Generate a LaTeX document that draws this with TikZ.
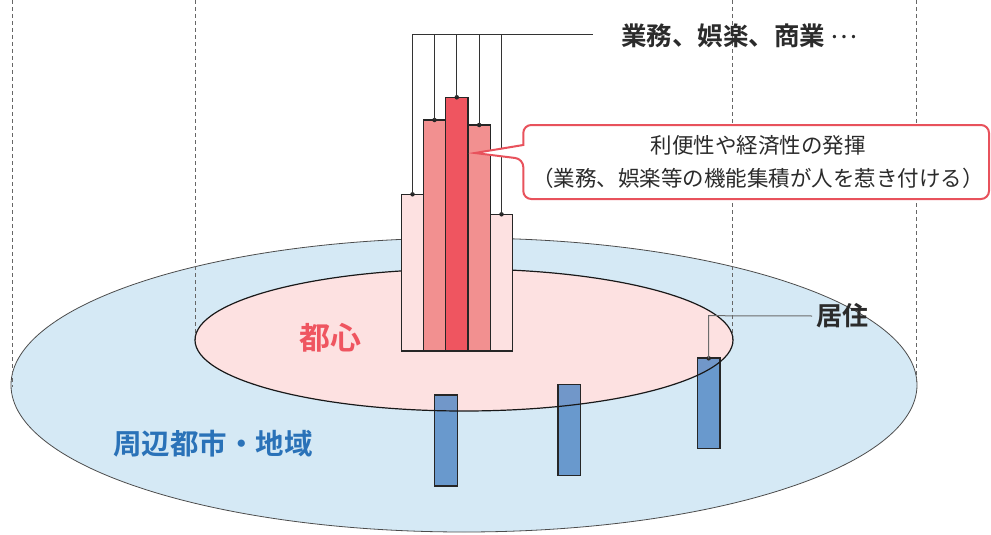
\documentclass[tikz,border=0pt]{standalone}
\usepackage{fontspec}
\newfontfamily\jp{Noto Sans CJK JP}
\newfontfamily\jpb{Noto Sans CJK JP Bold}
\definecolor{outerblue}{HTML}{D5E9F5}
\definecolor{innerpink}{HTML}{FDE1E1}
\definecolor{midred}{HTML}{F29090}
\definecolor{deepred}{HTML}{EF5560}
\definecolor{barblue}{HTML}{4F85C4}
\definecolor{labblue}{HTML}{2A72B8}
\definecolor{txtgray}{HTML}{2B2B2B}
\definecolor{calred}{HTML}{E8525C}
\tikzset{
  guide/.style={draw=gray!80!black, dashed, line width=0.7pt, dash pattern=on 4pt off 3pt},
  redbar/.style={draw=black!85, line width=1.2pt},
  bluebar/.style={draw=black!85, line width=1.1pt, fill=barblue, fill opacity=0.8},
  leader/.style={draw=black!80, line width=0.9pt},
  dotc/.style={circle, fill=black!85, inner sep=0pt, minimum size=4.5pt},
}
\begin{document}
\begin{tikzpicture}[x=1pt,y=-1pt]
\useasboundingbox (0,0) rectangle (991,535);
% outer ellipse
\fill[outerblue] (464,385) ellipse [x radius=453, y radius=147];
\draw[black!70, line width=0.8pt] (464,385) ellipse [x radius=453, y radius=147];
% dashed guides
\draw[guide] (12,0) -- (12,387);
\draw[guide] (916,0) -- (916,385);
% inner ellipse fill
\fill[innerpink] (464,340) ellipse [x radius=269, y radius=71];
\draw[guide] (195,0) -- (195,340);
\draw[guide] (732.5,0) -- (732.5,340);
% blue bars (residential)
\path[bluebar] (434.3,395) rectangle (457.3,486);
\path[bluebar] (558,384.7) rectangle (580.3,475.7);
\path[bluebar] (697.3,358) rectangle (720,448.7);
\draw[bluebar, fill=none] (434.3,395) rectangle (457.3,486);
\draw[bluebar, fill=none] (558,384.7) rectangle (580.3,475.7);
\draw[bluebar, fill=none] (697.3,358) rectangle (720,448.7);
% inner ellipse outline
\draw[black!90, line width=1.2pt] (464,340) ellipse [x radius=269, y radius=71];
% red bars
\path[redbar, fill=innerpink] (401.7,194.3) rectangle (423.3,351);
\path[redbar, fill=midred] (423.3,120) rectangle (445.7,351);
\path[redbar, fill=deepred] (445.7,97.3) rectangle (468,351);
\path[redbar, fill=midred] (468,125) rectangle (490.3,351);
\path[redbar, fill=innerpink] (490.3,214.3) rectangle (512.7,351);
% leader nodes
\node[dotc] (d1) at (412.5,194.3) {};
\node[dotc] (d2) at (434.5,120) {};
\node[dotc] (d3) at (456.8,97.3) {};
\node[dotc] (d4) at (479.2,125) {};
\node[dotc] (d5) at (501.5,214.3) {};
\coordinate (t1) at (412.5,34.3);
\coordinate (tend) at (593.3,34.3);
\draw[leader] (d1.center) -- (t1) -- (tend);
\draw[leader] (d2.center) -- (d2.center |- t1);
\draw[leader] (d3.center) -- (d3.center |- t1);
\draw[leader] (d4.center) -- (d4.center |- t1);
\draw[leader] (d5.center) -- (d5.center |- t1);
\node[anchor=west, inner sep=0pt, text=txtgray, font=\jpb\fontsize{25.5}{28}\selectfont] (biz) at (621,36) {業務、娯楽、商業 \raisebox{0.3em}{\jp …}};
% callout
\draw[calred, line width=2pt, fill=white, rounded corners=8pt]
  (523.3,145) -- (523.3,125) -- (989,125) -- (989,199) -- (523.3,199) -- (523.3,159) [sharp corners] -- (475,153) -- cycle;
\node[inner sep=0pt, text=txtgray, align=center, font=\jp\fontsize{21.5}{33}\selectfont] (call) at (758,162) {利便性や経済性の発揮\\（業務、娯楽等の機能集積が人を惹き付ける）};
% residence label
\node[dotc] (r1) at (708.7,358.3) {};
\node[anchor=west, inner sep=0pt, text=txtgray, font=\jpb\fontsize{26}{28}\selectfont] (res) at (816,316) {居住};
\draw[gray!85!black, line width=1pt] (r1.center) -- (708.7,315.7) -- (res.west -| 812,315.7);
% area labels
\node[inner sep=0pt, text=deepred, font=\jpb\fontsize{31}{33}\selectfont] (cc) at (330,338) {都心};
\node[inner sep=0pt, text=labblue, font=\jpb\fontsize{28.5}{30}\selectfont] (sub) at (213,444) {周辺都市・地域};
\end{tikzpicture}
\end{document}
